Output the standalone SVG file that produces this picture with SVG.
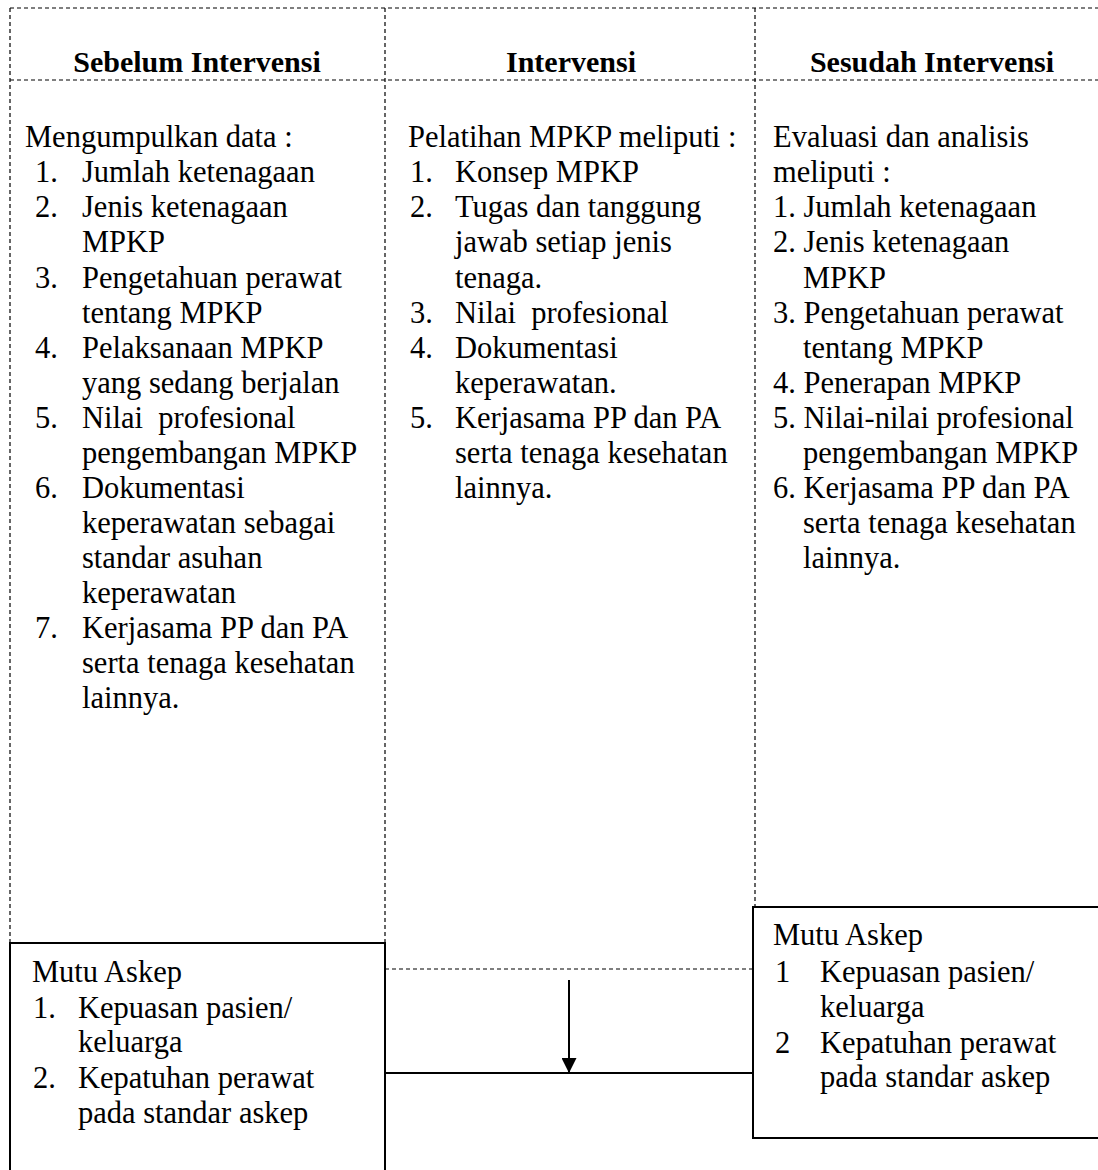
<svg xmlns="http://www.w3.org/2000/svg" width="1098" height="1170" viewBox="0 0 1098 1170">
<style>
text{font-family:"Liberation Serif","Times New Roman",serif;font-size:30.5px;fill:#000;white-space:pre}
.h{font-weight:bold;font-size:30px;text-anchor:middle}
.dash{stroke:#000;stroke-width:1.2;stroke-dasharray:4 3;fill:none}
.solid{stroke:#000;stroke-width:2;fill:none}
.box{stroke:#000;stroke-width:2;fill:#fff}
</style>
<defs>
<marker id="ah" viewBox="0 0 10 10" refX="10" refY="5" markerWidth="15" markerHeight="15" markerUnits="userSpaceOnUse" orient="auto">
<path d="M0,0 L10,5 L0,10 z" fill="#000"/>
</marker>
</defs>
<rect width="1098" height="1170" fill="#fff"/>
<g id="frame">
<line class="dash" x1="10" y1="8" x2="1098" y2="8"/>
<line class="dash" x1="10" y1="80" x2="1098" y2="80"/>
<line class="dash" x1="10" y1="8" x2="10" y2="943"/>
<line class="dash" x1="385" y1="8" x2="385" y2="943"/>
<line class="dash" x1="755" y1="8" x2="755" y2="907"/>
</g>
<g id="col-sebelum">
<text class="h" x="197" y="72">Sebelum Intervensi</text>
<text x="25" y="147">Mengumpulkan data :</text>
<text x="35" y="182">1.</text><text x="82" y="182">Jumlah ketenagaan</text>
<text x="35" y="217">2.</text><text x="82" y="217">Jenis ketenagaan</text>
<text x="82" y="252">MPKP</text>
<text x="35" y="288">3.</text><text x="82" y="288">Pengetahuan perawat</text>
<text x="82" y="323">tentang MPKP</text>
<text x="35" y="358">4.</text><text x="82" y="358">Pelaksanaan MPKP</text>
<text x="82" y="393">yang sedang berjalan</text>
<text x="35" y="428">5.</text><text x="82" y="428" xml:space="preserve">Nilai  profesional</text>
<text x="82" y="463">pengembangan MPKP</text>
<text x="35" y="498">6.</text><text x="82" y="498">Dokumentasi</text>
<text x="82" y="533">keperawatan sebagai</text>
<text x="82" y="568">standar asuhan</text>
<text x="82" y="603">keperawatan</text>
<text x="35" y="638">7.</text><text x="82" y="638">Kerjasama PP dan PA</text>
<text x="82" y="673">serta tenaga kesehatan</text>
<text x="82" y="708">lainnya.</text>
</g>
<g id="col-intervensi">
<text class="h" x="571" y="72">Intervensi</text>
<text x="408" y="147">Pelatihan MPKP meliputi :</text>
<text x="410" y="182">1.</text><text x="455" y="182">Konsep MPKP</text>
<text x="410" y="217">2.</text><text x="455" y="217">Tugas dan tanggung</text>
<text x="455" y="252">jawab setiap jenis</text>
<text x="455" y="288">tenaga.</text>
<text x="410" y="323">3.</text><text x="455" y="323" xml:space="preserve">Nilai  profesional</text>
<text x="410" y="358">4.</text><text x="455" y="358">Dokumentasi</text>
<text x="455" y="393">keperawatan.</text>
<text x="410" y="428">5.</text><text x="455" y="428">Kerjasama PP dan PA</text>
<text x="455" y="463">serta tenaga kesehatan</text>
<text x="455" y="498">lainnya.</text>
</g>
<g id="col-sesudah">
<text class="h" x="932" y="72">Sesudah Intervensi</text>
<text x="773" y="147">Evaluasi dan analisis</text>
<text x="773" y="182">meliputi :</text>
<text x="773" y="217">1. Jumlah ketenagaan</text>
<text x="773" y="252">2. Jenis ketenagaan</text>
<text x="803" y="288">MPKP</text>
<text x="773" y="323">3. Pengetahuan perawat</text>
<text x="803" y="358">tentang MPKP</text>
<text x="773" y="393">4. Penerapan MPKP</text>
<text x="773" y="428">5. Nilai-nilai profesional</text>
<text x="803" y="463">pengembangan MPKP</text>
<text x="773" y="498">6. Kerjasama PP dan PA</text>
<text x="803" y="533">serta tenaga kesehatan</text>
<text x="803" y="568">lainnya.</text>
</g>
<g id="connectors">
<line class="dash" x1="385" y1="969" x2="753" y2="969"/>
<line class="solid" x1="385" y1="1073" x2="753" y2="1073"/>
<line class="solid" x1="569" y1="980" x2="569" y2="1073" marker-end="url(#ah)"/>
</g>
<g id="mutu-sebelum">
<rect class="box" x="10" y="943" width="375" height="240"/>
<text x="32" y="982">Mutu Askep</text>
<text x="33" y="1018">1.</text><text x="78" y="1018">Kepuasan pasien/</text>
<text x="78" y="1052">keluarga</text>
<text x="33" y="1088">2.</text><text x="78" y="1088">Kepatuhan perawat</text>
<text x="78" y="1123">pada standar askep</text>
</g>
<g id="mutu-sesudah">
<rect class="box" x="753" y="907" width="360" height="231"/>
<text x="773" y="945">Mutu Askep</text>
<text x="775" y="982">1</text><text x="820" y="982">Kepuasan pasien/</text>
<text x="820" y="1017">keluarga</text>
<text x="775" y="1053">2</text><text x="820" y="1053">Kepatuhan perawat</text>
<text x="820" y="1087">pada standar askep</text>
</g>
</svg>
